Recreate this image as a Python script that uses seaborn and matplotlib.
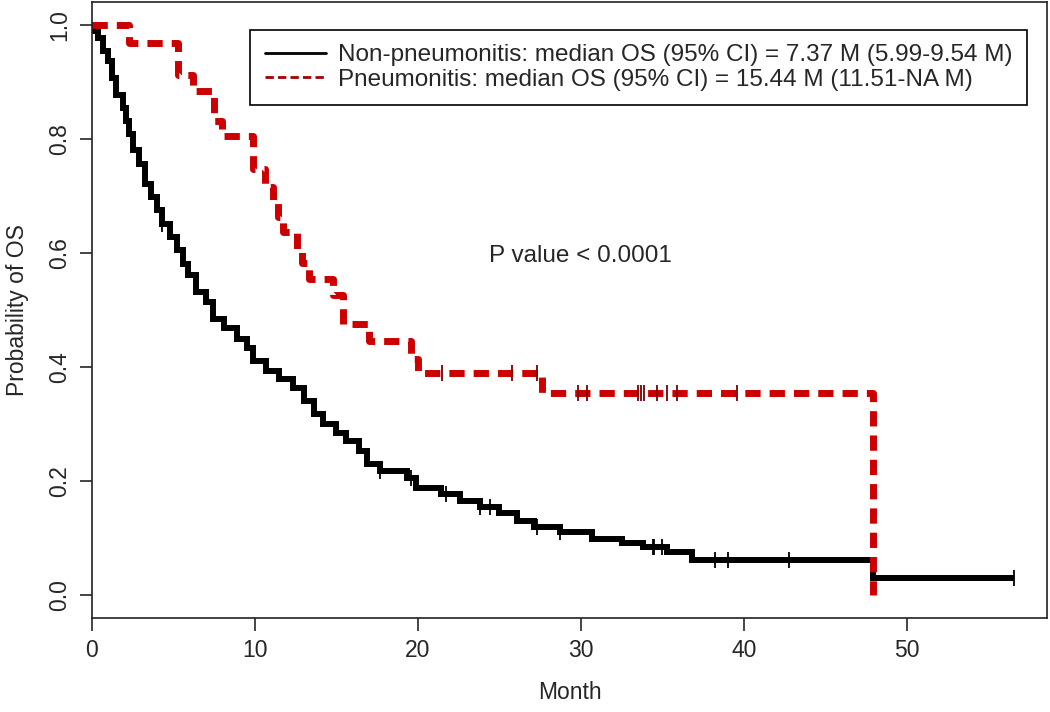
import numpy as np
import pandas as pd
import matplotlib
matplotlib.use("Agg")
import matplotlib.pyplot as plt
import seaborn as sns
from matplotlib.lines import Line2D

# --- data (time in months, survival after each drop) ---
non_time = [0, 0.18, 0.39, 0.7, 1.0, 1.2, 1.5, 1.9, 2.1, 2.3, 2.5, 2.9, 3.25, 3.6,
            4.0, 4.3, 4.8, 5.2, 5.6, 5.9, 6.4, 7.0, 7.4, 8.1, 8.9, 9.5, 9.9, 10.7,
            11.5, 12.35, 13.0, 13.6, 14.2, 15.0, 15.6, 16.4, 16.9, 17.7, 19.3, 19.9,
            21.4, 22.6, 23.8, 25.0, 26.1, 27.1, 28.7, 30.7, 32.5, 33.8, 35.3, 36.8,
            47.9, 56.6]
non_surv = [1.0, 0.99, 0.977, 0.955, 0.937, 0.907, 0.878, 0.855, 0.832, 0.808, 0.78,
            0.756, 0.721, 0.698, 0.675, 0.651, 0.628, 0.606, 0.581, 0.562, 0.532,
            0.515, 0.485, 0.468, 0.45, 0.433, 0.41, 0.393, 0.38, 0.363, 0.34, 0.318,
            0.30, 0.285, 0.27, 0.253, 0.23, 0.218, 0.206, 0.188, 0.178, 0.166, 0.154,
            0.145, 0.131, 0.119, 0.110, 0.099, 0.091, 0.084, 0.075, 0.061, 0.031,
            0.031]
non_censor = [4.3, 17.7, 19.6, 21.7, 23.8, 24.4, 27.3, 28.7, 34.4, 34.5, 35.0,
              38.2, 39.0, 42.8, 56.6]

pn_time = [0, 2.3, 5.3, 6.2, 7.5, 8.0, 9.9, 10.6, 11.1, 11.4, 11.7, 12.6, 12.9,
           13.3, 14.8, 15.4, 17.0, 19.6, 20.0, 27.6, 47.9]
pn_surv = [1.0, 0.969, 0.913, 0.885, 0.832, 0.806, 0.747, 0.716, 0.689, 0.664,
           0.637, 0.607, 0.582, 0.555, 0.527, 0.475, 0.445, 0.415, 0.389, 0.354, 0.0]
pn_censor = [21.5, 25.8, 27.3, 29.8, 30.4, 33.5, 33.7, 33.9, 34.7, 35.3, 35.9, 39.6]

x_ticks = [0, 10, 20, 30, 40, 50]
y_ticks = [0.0, 0.2, 0.4, 0.6, 0.8, 1.0]

labels = ["Non-pneumonitis: median OS (95% CI) = 7.37 M (5.99-9.54 M)",
          "Pneumonitis: median OS (95% CI) = 15.44 M (11.51-NA M)"]

black = "black"
red = "#cc0000"
fs = 16.5
fs_big = 17.5


def step_value(times, surv, t):
    idx = np.searchsorted(times, t, side="right") - 1
    return np.asarray(surv)[idx]


sns.set_style("ticks")
plt.rcParams['font.family'] = ['Liberation Sans', 'DejaVu Sans']

fig = plt.figure(figsize=(10.5, 7.12), dpi=100)
ax = fig.add_axes([0.0876, 0.132, 0.9095, 0.865])

df_non = pd.DataFrame({'t': non_time, 's': non_surv})
df_pn = pd.DataFrame({'t': pn_time, 's': pn_surv})

sns.lineplot(data=df_non, x='t', y='s', ax=ax, color=black, linewidth=4.3,
             drawstyle='steps-post', estimator=None, sort=False,
             solid_joinstyle='miter', solid_capstyle='butt')
sns.lineplot(data=df_pn, x='t', y='s', ax=ax, color=red, linewidth=5,
             drawstyle='steps-post', estimator=None, sort=False,
             linestyle=(0, (2.2, 1.3)), dash_capstyle='butt')

# censor marks
ax.plot(non_censor, step_value(non_time, non_surv, non_censor), linestyle='none',
        marker='|', markersize=12, markeredgewidth=1.3, color=black)
ax.plot(pn_censor, step_value(pn_time, pn_surv, pn_censor), linestyle='none',
        marker='|', markersize=12, markeredgewidth=1.3, color='#7a0000')

ax.text(30, 0.595, "P value < 0.0001", fontsize=fs_big, ha='center', va='center')

ax.set_xlim(0, 58.6)
ax.set_ylim(-0.04, 1.04)
ax.set_xticks(x_ticks)
ax.set_yticks(y_ticks)
ax.set_yticklabels([f"{v:.1f}" for v in y_ticks], rotation=90, va='center')
ax.tick_params(axis='both', labelsize=fs, length=9, width=1.2, direction='out', pad=6)
ax.set_xlabel("Month", fontsize=fs, labelpad=14)
ax.set_ylabel("Probability of OS", fontsize=fs, labelpad=14)
for sp in ax.spines.values():
    sp.set_visible(True)
    sp.set_linewidth(1.2)
    sp.set_color('#222222')

handles = [Line2D([], [], color=black, linewidth=2),
           Line2D([], [], color='#a00000', linewidth=2, linestyle=(0, (3, 1.5)))]
leg = ax.legend(handles, labels, loc='upper right', bbox_to_anchor=(0.979, 0.955),
                borderaxespad=0, fontsize=fs_big, handlelength=2.5, handletextpad=0.5,
                labelspacing=0.1, borderpad=0.6, fancybox=False, framealpha=1)
leg.get_frame().set_edgecolor('black')
leg.get_frame().set_linewidth(1.2)

fig.savefig("out.png", dpi=100)
